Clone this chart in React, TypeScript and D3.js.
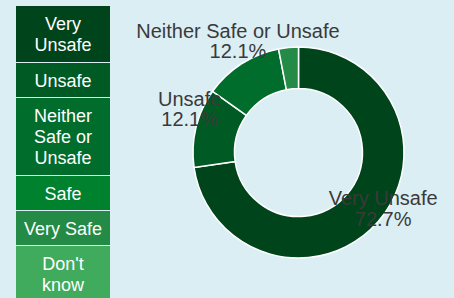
import React from 'react';
import * as d3 from 'd3';

// survey answers, in legend order
const categories = ['Very Unsafe', 'Unsafe', 'Neither Safe or Unsafe', 'Safe', 'Very Safe', "Don't know"];
const legendLines = [['Very', 'Unsafe'], ['Unsafe'], ['Neither', 'Safe or', 'Unsafe'], ['Safe'], ['Very Safe'], ["Don't", 'know']];
const counts = [24, 4, 4, 0, 1, 0];
const colors = ['#00441b', '#005a24', '#006d2c', '#00812e', '#238b45', '#41ab5d'];

const width = 454;
const height = 298;

const App = () => {
  const total = d3.sum(counts);
  const cx = 298.5;
  const cy = 152.5;
  const outer = 105.5;
  const inner = 64;

  const pie = d3.pie<number>().sort(null).value(d => d);
  const arcs = pie(counts);
  const arc = d3.arc<d3.PieArcDatum<number>>().innerRadius(inner).outerRadius(outer);
  const labelArc = d3.arc<d3.PieArcDatum<number>>().innerRadius(112).outerRadius(112);

  // legend boxes stacked, height by number of lines
  let y = 6;
  const boxes = legendLines.map((lines, i) => {
    const h = Math.round(21.3 * lines.length + 13);
    const b = { y, h, lines, color: colors[i] };
    y += h + 1;
    return b;
  });

  return (
    <div style={{ position: 'absolute', left: 0, top: 0 }}>
      <svg width={width} height={height} style={{ display: 'block', background: '#dbeef4' }}
        fontFamily="Liberation Sans, Arial, sans-serif">
        {boxes.map((b, i) => (
          <g key={i}>
            <rect x={16} y={b.y} width={94} height={b.h} fill={b.color} />
            {b.lines.map((t, j) => (
              <text key={j} x={63} y={b.y + 24 + j * 21} textAnchor="middle" fontSize={18} fill="#fff">{t}</text>
            ))}
          </g>
        ))}
        <g transform={`translate(${cx},${cy})`}>
          {arcs.map((a, i) => a.value > 0 && (
            <path key={i} d={arc(a) || ''} fill={colors[i]} stroke="#fff" strokeWidth={1.5} />
          ))}
          {arcs.map((a, i) => {
            if (a.value / total < 0.05) return null;
            const [lx, ly] = labelArc.centroid(a);
            const pct = d3.format('.1%')(a.value / total);
            return (
              <text key={'l' + i} textAnchor="middle" fontSize={20} fill="#3a3a3a">
                <tspan x={lx} y={ly - 20.5}>{categories[i]}</tspan>
                <tspan x={lx} y={ly}>{pct}</tspan>
              </text>
            );
          })}
        </g>
      </svg>
    </div>
  );
};

export default App;
